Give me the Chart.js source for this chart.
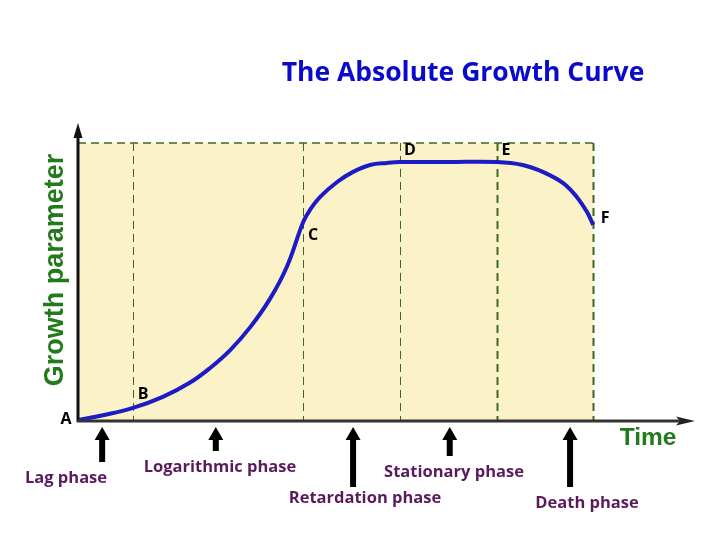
<!DOCTYPE html>
<html>
<head>
<meta charset="utf-8">
<script src="https://cdn.jsdelivr.net/npm/chart.js@4"></script>
<style>
  html, body { margin: 0; padding: 0; background: #ffffff; }
  #growth { display: block; }
</style>
</head>
<body>
<canvas id="growth" width="720" height="540"></canvas>
<script>
// ─────────────────────────────────────────
// DATA
// ─────────────────────────────────────────

const timeValues   = [0, 0.51, 1.07, 1.65, 2.18, 2.57, 2.96, 3.35, 3.73, 4.06, 4.38, 4.51, 4.71, 5.04, 5.35, 5.68, 6.01, 6.26, 7.2, 8.15, 8.65, 9.04, 9.43, 9.70, 9.90, 10.02];
const growthValues = [0.3, 2.0, 4.4, 8.1, 12.9, 17.8, 23.8, 31.5, 40.9, 51.7, 66.8, 70.8, 75.2, 80.2, 83.6, 85.9, 86.6, 86.9, 86.9, 86.9, 85.9, 83.6, 79.9, 75.2, 70.1, 65.8];

// phase boundaries (dashed lines) and the top of the shaded box
const boundaryTimes = [1.07, 4.38, 6.26, 8.15, 10.02];
const boxTop = 93.3;

// lettered points on the curve
const pointLetters = ["A", "B", "C", "D", "E", "F"];
const letterTimes  = [0, 1.07, 4.38, 6.26, 8.15, 10.02];

// phases pointed at below the time axis
const phaseNames = ["Lag phase", "Logarithmic phase", "Retardation phase", "Stationary phase", "Death phase"];
const phaseTimes = [0.47, 2.68, 5.35, 7.23, 9.57];

const TITLE  = "The Absolute Growth Curve";
const Y_NAME = "Growth parameter";
const X_NAME = "Time";

// ─────────────────────────────────────────
// DRAWING HELPERS
// ─────────────────────────────────────────

function upArrow(ctx, x, top, bottom) {
  ctx.fillStyle = "#000000";
  ctx.fillRect(x - 3, top + 11, 6, bottom - top - 11);
  ctx.beginPath();
  ctx.moveTo(x, top);
  ctx.lineTo(x - 7.5, top + 13);
  ctx.lineTo(x + 7.5, top + 13);
  ctx.closePath();
  ctx.fill();
}

const decorations = {
  id: "decorations",
  beforeDatasetsDraw(chart) {
    const { ctx, scales: { x, y } } = chart;
    const left = x.getPixelForValue(0);
    const right = x.getPixelForValue(boundaryTimes[boundaryTimes.length - 1]);
    const top = y.getPixelForValue(boxTop);
    const bottom = y.getPixelForValue(0);

    ctx.save();
    ctx.fillStyle = "#fcf2c8";
    ctx.fillRect(left, top, right - left, bottom - top);

    ctx.strokeStyle = "#3b6a1e";
    ctx.setLineDash([8, 5]);
    ctx.lineWidth = 1.5;
    ctx.beginPath();
    ctx.moveTo(left, top);
    ctx.lineTo(right, top);
    ctx.stroke();

    boundaryTimes.forEach((t, i) => {
      const px = Math.round(x.getPixelForValue(t)) + 0.5;
      ctx.lineWidth = i >= 3 ? 2 : 1;
      ctx.beginPath();
      ctx.moveTo(px, top);
      ctx.lineTo(px, bottom);
      ctx.stroke();
    });
    ctx.restore();
  },
  afterDraw(chart) {
    const { ctx, chartArea, scales: { x, y } } = chart;
    const x0 = x.getPixelForValue(0);
    const y0 = y.getPixelForValue(0);

    ctx.save();

    // y axis with arrow
    ctx.strokeStyle = "#111111";
    ctx.lineWidth = 3;
    ctx.beginPath();
    ctx.moveTo(x0, y0 + 1);
    ctx.lineTo(x0, chartArea.top + 8);
    ctx.stroke();
    ctx.fillStyle = "#111111";
    ctx.beginPath();
    ctx.moveTo(x0, chartArea.top);
    ctx.lineTo(x0 - 4.5, chartArea.top + 15);
    ctx.lineTo(x0 + 4.5, chartArea.top + 15);
    ctx.closePath();
    ctx.fill();

    // x axis with arrow
    ctx.strokeStyle = "#333333";
    ctx.beginPath();
    ctx.moveTo(x0 - 1, y0);
    ctx.lineTo(chartArea.right - 10, y0);
    ctx.stroke();
    ctx.fillStyle = "#222222";
    ctx.beginPath();
    ctx.moveTo(chartArea.right, y0);
    ctx.lineTo(chartArea.right - 19, y0 - 4.5);
    ctx.lineTo(chartArea.right - 15, y0);
    ctx.lineTo(chartArea.right - 19, y0 + 4.5);
    ctx.closePath();
    ctx.fill();

    // title
    ctx.fillStyle = "#0a0acc";
    ctx.font = "bold 26.5px 'Open Sans'";
    ctx.textAlign = "center";
    ctx.textBaseline = "middle";
    ctx.fillText(TITLE, 463, 73);

    // axis names
    ctx.fillStyle = "#237a1c";
    ctx.font = "bold 24.5px 'Liberation Sans'";
    ctx.fillText(X_NAME, 648, 438);
    ctx.font = "bold 27px 'Liberation Sans'";
    ctx.save();
    ctx.translate(56, 270);
    ctx.rotate(-Math.PI / 2);
    ctx.fillText(Y_NAME, 0, 0);
    ctx.restore();

    // point letters
    const letterOffsets = [[-12, -1], [10, -13], [10, 14], [10, -11], [9, -11], [12, -6]];
    ctx.fillStyle = "#000000";
    ctx.font = "bold 16px 'Open Sans'";
    pointLetters.forEach((l, i) => {
      const t = letterTimes[i];
      const k = timeValues.indexOf(t);
      const onTop = i === 3 || i === 4;
      const px = x.getPixelForValue(t) + letterOffsets[i][0];
      const py = y.getPixelForValue(onTop ? boxTop : growthValues[k]) + letterOffsets[i][1];
      ctx.fillText(l, px, py + (onTop ? 18 : 0));
    });

    // phase arrows and names
    const arrowBottoms = [462, 451, 487, 456, 487];
    const labelSpots = [[66, 478], [220, 467], [365, 498], [454, 472], [587, 503]];
    phaseTimes.forEach((t, i) => {
      const px = x.getPixelForValue(t);
      upArrow(ctx, px, y0 + 6, arrowBottoms[i]);
    });
    ctx.fillStyle = "#5a1a5c";
    ctx.font = "bold 16.5px 'Open Sans'";
    phaseNames.forEach((n, i) => {
      ctx.fillText(n, labelSpots[i][0], labelSpots[i][1]);
    });

    ctx.restore();
  }
};

// ─────────────────────────────────────────
// CHART
// ─────────────────────────────────────────

new Chart(document.getElementById("growth"), {
  type: "line",
  data: {
    datasets: [{
      label: "Growth",
      data: timeValues.map((t, i) => ({ x: t, y: growthValues[i] })),
      borderColor: "#1c1cc4",
      borderWidth: 4,
      pointRadius: 0,
      fill: false,
      tension: 0.4
    }]
  },
  options: {
    responsive: false,
    animation: false,
    devicePixelRatio: 1,
    layout: { padding: { left: 78, right: 25, top: 123, bottom: 119 } },
    plugins: {
      legend: { display: false },
      tooltip: { enabled: false },
      title: { display: false }
    },
    scales: {
      x: { type: "linear", min: 0, max: 12, display: false },
      y: { min: 0, max: 100, display: false }
    }
  },
  plugins: [decorations]
});
</script>
</body>
</html>
